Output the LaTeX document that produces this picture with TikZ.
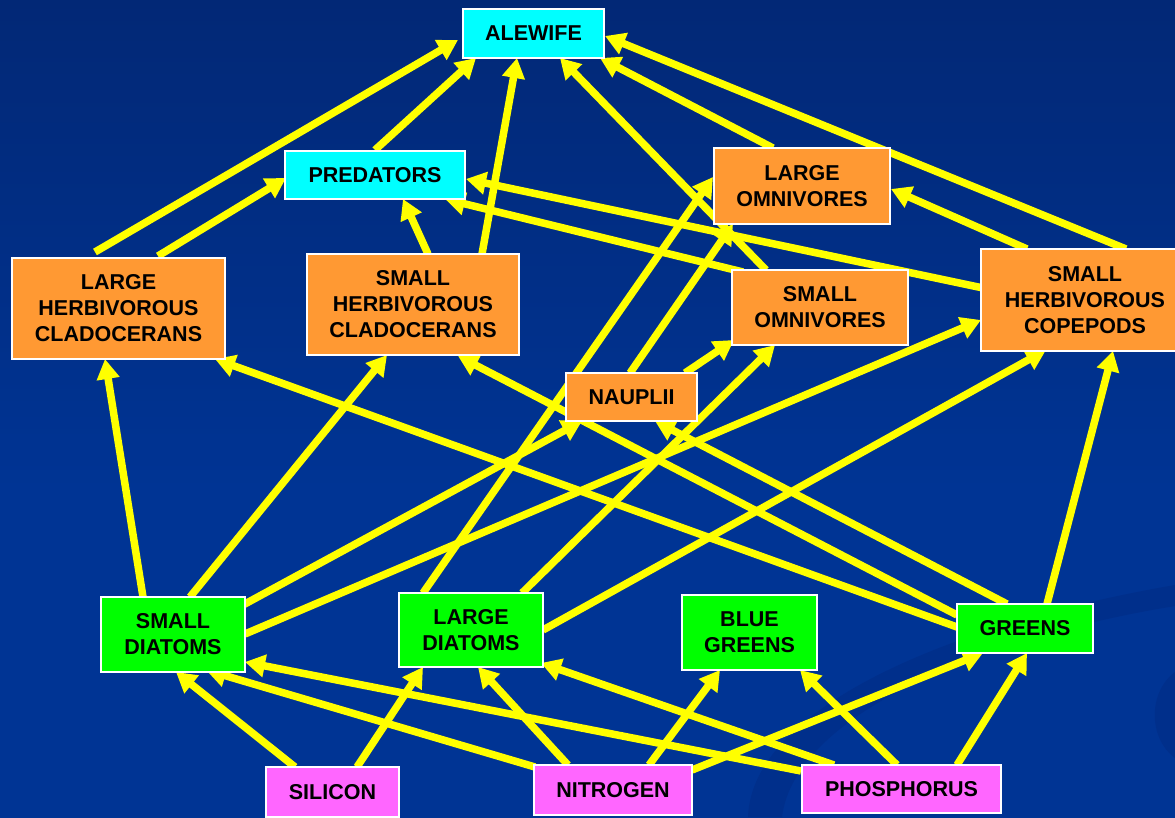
\documentclass[tikz,border=0pt]{standalone}
\usepackage{fontspec}
\setmainfont{Liberation Sans}
\usetikzlibrary{arrows.meta}

\definecolor{bgtop}{RGB}{12,27,72}
\definecolor{bgmid}{RGB}{2,40,118}
\definecolor{bgbot}{RGB}{0,52,148}
\definecolor{swoosh}{RGB}{0,47,139}
\definecolor{boxcyan}{RGB}{0,255,255}
\definecolor{boxorange}{RGB}{255,153,51}
\definecolor{boxgreen}{RGB}{0,255,0}
\definecolor{boxpink}{RGB}{255,102,255}
\definecolor{linkyellow}{RGB}{255,255,0}

\pgfdeclareverticalshading{skyshade}{100bp}{color(0bp)=(bgbot); color(45bp)=(bgbot); color(75bp)=(bgmid); color(100bp)=(bgtop)}
\pgfdeclarelayer{back}
\pgfsetlayers{back,main}

\begin{document}
\begin{tikzpicture}[x=1pt,y=-1pt,
  box/.style={draw=white, line width=2.5pt, inner sep=0pt, align=center,
    font=\fontsize{21.5}{26}\selectfont\bfseries, text=black},
  fish/.style={box, fill=boxcyan},
  zoo/.style={box, fill=boxorange},
  algae/.style={box, fill=boxgreen},
  nutrient/.style={box, fill=boxpink},
  link/.style={draw=linkyellow, line width=7.5pt,
    -{Triangle[length=20pt,width=22pt]}}
]
\clip (0,0) rectangle (1175,817);

% top consumers
\node[fish, minimum width=141pt, minimum height=49pt] (ale) at (533.5,33.5) {ALEWIFE};
\node[fish, minimum width=180pt, minimum height=48pt] (pred) at (375,175) {PREDATORS};

% zooplankton
\node[zoo, minimum width=213pt, minimum height=101pt] (lhc) at (118.5,308.5) {LARGE\\HERBIVOROUS\\CLADOCERANS};
\node[zoo, minimum width=212pt, minimum height=101pt] (shc) at (413,304.5) {SMALL\\HERBIVOROUS\\CLADOCERANS};
\node[zoo, minimum width=176pt, minimum height=76pt] (lom) at (802,186) {LARGE\\OMNIVORES};
\node[zoo, minimum width=176pt, minimum height=75pt] (som) at (820,307.5) {SMALL\\OMNIVORES};
\node[zoo, minimum width=208pt, minimum height=102pt] (cop) at (1085,300) {SMALL\\HERBIVOROUS\\COPEPODS};
\node[zoo, minimum width=131pt, minimum height=48pt] (nau) at (631.5,397) {NAUPLII};

% phytoplankton
\node[algae, minimum width=144pt, minimum height=75pt] (sd) at (173,634.5) {SMALL\\DIATOMS};
\node[algae, minimum width=144pt, minimum height=74pt] (ld) at (471,630) {LARGE\\DIATOMS};
\node[algae, minimum width=135pt, minimum height=75pt] (bg) at (749.5,632.5) {BLUE\\GREENS};
\node[algae, minimum width=136pt, minimum height=49pt] (gr) at (1025,628.5) {GREENS};

% nutrients
\node[nutrient, minimum width=133pt, minimum height=50pt] (si) at (332.5,792) {SILICON};
\node[nutrient, minimum width=158pt, minimum height=50pt] (ni) at (613,790) {NITROGEN};
\node[nutrient, minimum width=199pt, minimum height=48pt] (ph) at (901.5,789) {PHOSPHORUS};

\begin{pgfonlayer}{back}
  \shade[shading=skyshade] (0,0) rectangle (1175,817);
  % faint swoosh in the lower right
  \fill[swoosh] (748,817) .. controls (752,705) and (960,622) .. (1175,585)
    -- (1175,606) .. controls (990,636) and (795,712) .. (782,817) -- cycle;
  \fill[swoosh] (1175,672) .. controls (1148,692) and (1148,738) .. (1175,758) -- cycle;

  % into ALEWIFE
  \draw[link] ([shift={(-23.5,-56.5)}]lhc.center) -- ([shift={(-75.5,6.5)}]ale.center);
  \draw[link] ([shift={(0,-25)}]pred.center) -- ([shift={(-57.5,24.5)}]ale.center);
  \draw[link] ([shift={(69,-50.5)}]shc.center) -- ([shift={(-16.5,24.5)}]ale.center);
  \draw[link] ([shift={(-54,-37.5)}]som.center) -- ([shift={(26.5,24.5)}]ale.center);
  \draw[link] ([shift={(-29,-38)}]lom.center) -- ([shift={(66.5,24.5)}]ale.center);
  \draw[link] ([shift={(41,-51)}]cop.center) -- ([shift={(71.5,2.5)}]ale.center);
  % into PREDATORS
  \draw[link] ([shift={(39.5,-52.5)}]lhc.center) -- ([shift={(-89,3)}]pred.center);
  \draw[link] ([shift={(15,-50.5)}]shc.center) -- ([shift={(28,24)}]pred.center);
  \draw[link] ([shift={(-77,-35.5)}]som.center) -- ([shift={(70,24)}]pred.center);
  \draw[link] ([shift={(-102,-12)}]cop.center) -- ([shift={(91,4)}]pred.center);
  % into LARGE OMNIVORES
  \draw[link] ([shift={(-48,-37)}]ld.center) -- ([shift={(-89,-9)}]lom.center);
  \draw[link] ([shift={(-1.5,-24)}]nau.center) -- ([shift={(-69,38)}]lom.center);
  \draw[link] ([shift={(-58,-51)}]cop.center) -- ([shift={(89,3)}]lom.center);
  % into SMALL OMNIVORES
  \draw[link] ([shift={(53.5,-24)}]nau.center) -- ([shift={(-86,32.5)}]som.center);
  \draw[link] ([shift={(51,-37)}]ld.center) -- ([shift={(-45,37.5)}]som.center);
  % into COPEPODS
  \draw[link] ([shift={(72,-0.5)}]sd.center) -- ([shift={(-104,20)}]cop.center);
  \draw[link] ([shift={(72,0)}]ld.center) -- ([shift={(-39,50)}]cop.center);
  \draw[link] ([shift={(22,-24.5)}]gr.center) -- ([shift={(28,51)}]cop.center);
  % into NAUPLII
  \draw[link] ([shift={(70,-29.5)}]sd.center) -- ([shift={(-49.5,24)}]nau.center);
  \draw[link] ([shift={(-18,-24.5)}]gr.center) -- ([shift={(23.5,24)}]nau.center);
  % into the cladocerans
  \draw[link] ([shift={(-68,-13.5)}]gr.center) -- ([shift={(45,51.5)}]shc.center);
  \draw[link] ([shift={(-68,-1.5)}]gr.center) -- ([shift={(96.5,50.5)}]lhc.center);
  \draw[link] ([shift={(-30,-37.5)}]sd.center) -- ([shift={(-13.5,50.5)}]lhc.center);
  \draw[link] ([shift={(17,-37.5)}]sd.center) -- ([shift={(-26,50.5)}]shc.center);
  % nutrients into algae
  \draw[link] ([shift={(-37.5,-25)}]si.center) -- ([shift={(3,37.5)}]sd.center);
  \draw[link] ([shift={(-78,-23)}]ni.center) -- ([shift={(33,35.5)}]sd.center);
  \draw[link] ([shift={(-100.5,-18)}]ph.center) -- ([shift={(72,27.5)}]sd.center);
  \draw[link] ([shift={(24.5,-25)}]si.center) -- ([shift={(-48,37)}]ld.center);
  \draw[link] ([shift={(-45,-25)}]ni.center) -- ([shift={(7,37)}]ld.center);
  \draw[link] ([shift={(-67.5,-24)}]ph.center) -- ([shift={(70,33)}]ld.center);
  \draw[link] ([shift={(36,-25)}]ni.center) -- ([shift={(-29.5,37.5)}]bg.center);
  \draw[link] ([shift={(-4.5,-24)}]ph.center) -- ([shift={(50.5,37.5)}]bg.center);
  \draw[link] ([shift={(79,-20)}]ni.center) -- ([shift={(-42,24.5)}]gr.center);
  \draw[link] ([shift={(55.5,-24)}]ph.center) -- ([shift={(2,24.5)}]gr.center);
\end{pgfonlayer}
\end{tikzpicture}
\end{document}
